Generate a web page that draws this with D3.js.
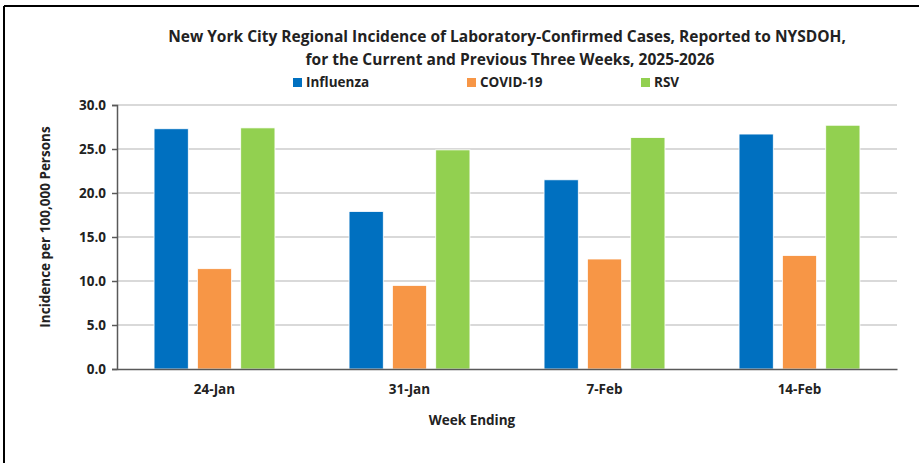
<!DOCTYPE html>
<html>
<head>
<meta charset="utf-8">
<script src="https://cdn.jsdelivr.net/npm/d3@7"></script>
<style>
  body { margin: 0; background: #fff; }
  text { font-family: "Open Sans", sans-serif; font-weight: bold; fill: #222; }
</style>
</head>
<body>
<script>
var weeks = ["24-Jan", "31-Jan", "7-Feb", "14-Feb"];
var seriesNames = ["Influenza", "COVID-19", "RSV"];
var influenza = [27.3, 17.9, 21.5, 26.7];
var covid = [11.4, 9.5, 12.5, 12.9];
var rsv = [27.4, 24.9, 26.3, 27.7];
var yTicks = [0, 5, 10, 15, 20, 25, 30];
var colors = ["#0070C0", "#F79646", "#92D050"];

var seriesValues = [influenza, covid, rsv];
var rows = [];
weeks.forEach(function(w, i) {
  seriesValues.forEach(function(vals, s) {
    rows.push({ week: w, series: seriesNames[s], value: vals[i] });
  });
});

var W = 919, H = 463;
var m = { left: 117, right: 22, top: 105, bottom: 94 };

var svg = d3.select("body").append("svg").attr("width", W).attr("height", H);

// frame (left and top edges visible)
svg.append("line").attr("x1", 4).attr("y1", 6).attr("x2", W).attr("y2", 6)
  .attr("stroke", "#000").attr("stroke-width", 2);
svg.append("line").attr("x1", 4).attr("y1", 6).attr("x2", 4).attr("y2", H)
  .attr("stroke", "#000").attr("stroke-width", 2);

var x0 = d3.scaleBand().domain(weeks).range([m.left, W - m.right]).paddingInner(0.38).paddingOuter(0.19);
var x1 = d3.scaleBand().domain(seriesNames).range([0, x0.bandwidth()]).paddingInner(0.21);
var y = d3.scaleLinear().domain([0, 30]).range([H - m.bottom, m.top]);
var color = d3.scaleOrdinal().domain(seriesNames).range(colors);

// gridlines
svg.append("g").selectAll("line").data(yTicks.slice(1)).enter().append("line")
  .attr("x1", m.left).attr("x2", W - m.right)
  .attr("y1", function(d) { return y(d); }).attr("y2", function(d) { return y(d); })
  .attr("stroke", "#d9d9d9").attr("stroke-width", 2);

// bars
svg.append("g").selectAll("rect").data(rows).enter().append("rect")
  .attr("x", function(d) { return x0(d.week) + x1(d.series); })
  .attr("y", function(d) { return y(d.value); })
  .attr("width", x1.bandwidth())
  .attr("height", function(d) { return y(0) - y(d.value); })
  .attr("fill", function(d) { return color(d.series); })
  .attr("stroke", "#fff").attr("stroke-width", 0.8);

// y axis
var yAxis = svg.append("g").attr("transform", "translate(" + m.left + ",0)")
  .call(d3.axisLeft(y).tickValues(yTicks).tickFormat(d3.format(".1f")).tickSize(5).tickPadding(6));
yAxis.select(".domain").attr("stroke", "#595959").attr("stroke-width", 1.5);
yAxis.selectAll(".tick line").attr("stroke", "#595959").attr("stroke-width", 1.5);
yAxis.selectAll("text").attr("font-size", 13.5).style("fill", "#222")
  .style("font-family", "'Open Sans', sans-serif").style("font-weight", "bold");

// x axis
var xAxis = svg.append("g").attr("transform", "translate(0," + y(0) + ")")
  .call(d3.axisBottom(x0).tickSize(0).tickPadding(15));
xAxis.select(".domain").attr("stroke", "#595959").attr("stroke-width", 1.5);
xAxis.selectAll("text").attr("font-size", 13.5).style("fill", "#222")
  .style("font-family", "'Open Sans', sans-serif").style("font-weight", "bold");

// titles
svg.append("text").attr("x", 507).attr("y", 42).attr("text-anchor", "middle").attr("font-size", 15.5)
  .text("New York City Regional Incidence of Laboratory-Confirmed Cases, Reported to NYSDOH,");
svg.append("text").attr("x", 510).attr("y", 65).attr("text-anchor", "middle").attr("font-size", 15.5)
  .text("for the Current and Previous Three Weeks, 2025-2026");

svg.append("text").attr("x", 472).attr("y", 425).attr("text-anchor", "middle").attr("font-size", 13.5)
  .text("Week Ending");

svg.append("text").attr("transform", "translate(50,227) rotate(-90)").attr("text-anchor", "middle")
  .attr("font-size", 13.5).text("Incidence per 100,000 Persons");

// legend
var legend = svg.append("g").selectAll("g").data(seriesNames).enter().append("g")
  .attr("transform", function(d, i) { return "translate(" + (293 + i * 174) + ",78)"; });
legend.append("rect").attr("width", 9).attr("height", 9).attr("fill", function(d) { return color(d); });
legend.append("text").attr("x", 13).attr("y", 9).attr("font-size", 13.5).text(function(d) { return d; });
</script>
</body>
</html>
